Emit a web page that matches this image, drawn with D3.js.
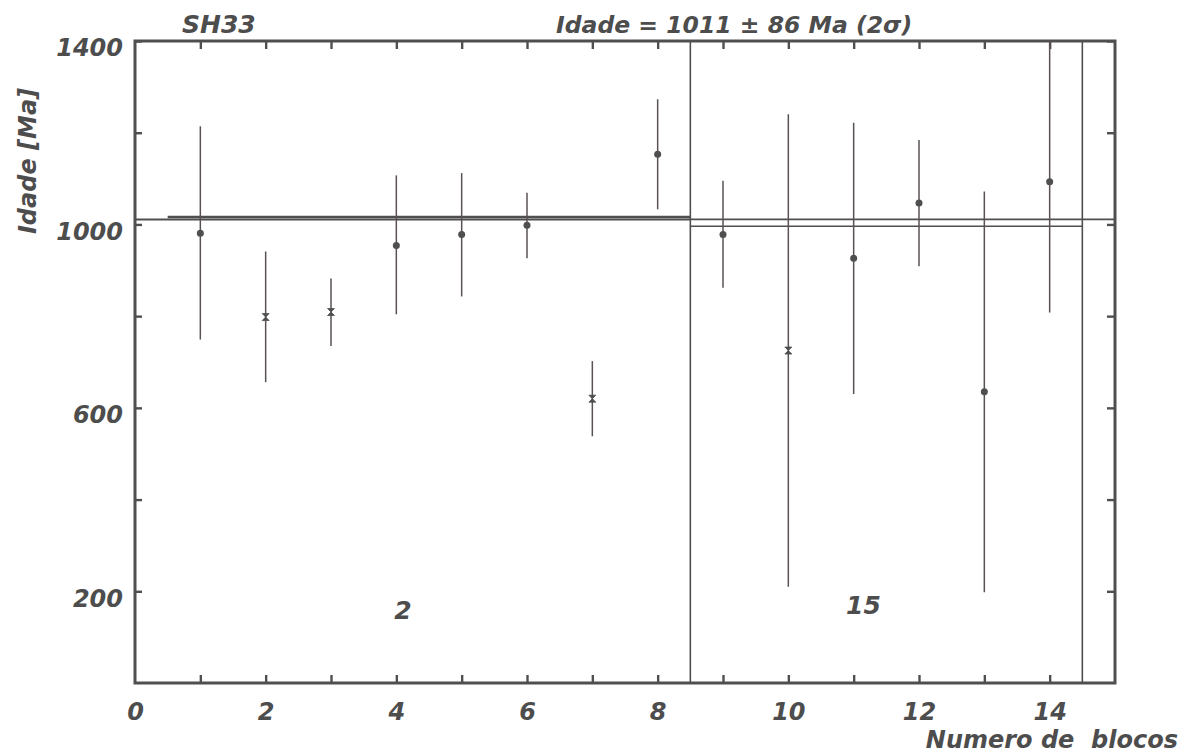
<!DOCTYPE html>
<html>
<head>
<meta charset="utf-8">
<script src="https://cdn.jsdelivr.net/npm/d3@7"></script>
<style>
  html, body { margin: 0; padding: 0; background: #fff; }
  svg { display: block; }
  text { font-family: "DejaVu Sans", sans-serif; font-style: italic; fill: #4d4d4d; }
</style>
</head>
<body>
<svg id="chart" width="1190" height="754"></svg>
<script>
// Block ages (Ma) with 2-sigma bounds, SH33
const blocks   = [1, 2, 3, 4, 5, 6, 7, 8, 9, 10, 11, 12, 13, 14];
const ages     = [981, 798, 809, 954, 978, 998, 620, 1153, 978, 725, 926, 1047, 635, 1093];
const ageLow   = [749, 656, 735, 804, 843, 926, 538, 1033, 862, 210, 630, 909, 198, 808];
const ageHigh  = [1214, 941, 882, 1107, 1112, 1069, 702, 1273, 1095, 1240, 1222, 1184, 1072, 1400];
const markers  = ["dot", "hour", "hour", "dot", "dot", "dot", "hour", "dot", "dot", "hour", "dot", "dot", "dot", "dot"];

// Reference age lines: value, x start, x end, width
const refValues = [1011, 1016, 1011, 996];
const refStart  = [0, 0.5, 8.5, 8.5];
const refEnd    = [8.5, 8.5, 15, 14.5];
const refWidth  = [2, 2.5, 1.6, 1.6];

// Group separators and group labels
const separators = [8.5, 14.5];
const groupLabels = ["2", "15"];
const groupLabelX = [4.1, 11.15];
const groupLabelY = [140, 150];

const xTickLabels = [0, 2, 4, 6, 8, 10, 12, 14];
const yTickLabels = [200, 600, 1000, 1400];

const svg = d3.select("#chart");
const ink = "#4f4f4f";

const x = d3.scaleLinear().domain([0, 15]).range([135, 1115]);
const y = d3.scaleLinear().domain([0, 1400]).range([683, 41]);

svg.append("clipPath").attr("id", "plotclip")
  .append("rect")
  .attr("x", x(0)).attr("y", y(1400))
  .attr("width", x(15) - x(0)).attr("height", y(0) - y(1400));

// Axes with inward ticks
const fmtX = d => (xTickLabels.includes(d) ? d : "");
const fmtY = d => (yTickLabels.includes(d) ? d : "");

const axBottom = svg.append("g").attr("transform", `translate(0,${y(0)})`)
  .call(d3.axisBottom(x).tickValues(d3.range(0, 15)).tickSize(-8).tickPadding(20).tickFormat(fmtX));
const axTop = svg.append("g").attr("transform", `translate(0,${y(1400)})`)
  .call(d3.axisTop(x).tickValues(d3.range(1, 15)).tickSize(-8).tickFormat(""));
const axLeft = svg.append("g").attr("transform", `translate(${x(0)},0)`)
  .call(d3.axisLeft(y).tickValues(d3.range(200, 1401, 200)).tickSize(-7).tickPadding(12).tickFormat(fmtY));
const axRight = svg.append("g").attr("transform", `translate(${x(15)},0)`)
  .call(d3.axisRight(y).tickValues(d3.range(200, 1401, 200)).tickSize(-8).tickFormat(""));

[axBottom, axTop, axLeft, axRight].forEach(g => {
  g.select(".domain").remove();
  g.selectAll(".tick line").attr("stroke", ink).attr("stroke-width", 2.4);
});
axBottom.selectAll(".tick line").filter(d => d === 0).remove();
axBottom.selectAll(".tick text")
  .attr("font-size", 24).attr("font-weight", "bold").attr("fill", ink);
axLeft.selectAll(".tick text")
  .attr("font-size", 24).attr("font-weight", "bold").attr("fill", ink)
  .attr("dy", "0.62em");

// Frame
svg.append("rect")
  .attr("x", x(0)).attr("y", y(1400))
  .attr("width", x(15) - x(0)).attr("height", y(0) - y(1400))
  .attr("fill", "none").attr("stroke", ink).attr("stroke-width", 3);

const plot = svg.append("g").attr("clip-path", "url(#plotclip)");

// Group separators
plot.selectAll("line.sep").data(separators).join("line")
  .attr("class", "sep")
  .attr("x1", d => x(d)).attr("x2", d => x(d))
  .attr("y1", y(1400)).attr("y2", y(0))
  .attr("stroke", ink).attr("stroke-width", 1.6);

// Reference age lines
plot.selectAll("line.ref").data(refValues).join("line")
  .attr("class", "ref")
  .attr("x1", (d, i) => x(refStart[i])).attr("x2", (d, i) => x(refEnd[i]))
  .attr("y1", d => y(d)).attr("y2", d => y(d))
  .attr("stroke", ink).attr("stroke-width", (d, i) => refWidth[i]);

// Error bars
plot.selectAll("line.err").data(blocks).join("line")
  .attr("class", "err")
  .attr("x1", d => x(d)).attr("x2", d => x(d))
  .attr("y1", (d, i) => y(ageLow[i])).attr("y2", (d, i) => y(ageHigh[i]))
  .attr("stroke", "#5a5252").attr("stroke-width", 1.5);

// Markers: filled dots and hourglass symbols
const hourglass = "M-3.5,-3.5 L3.5,-3.5 L-3.5,3.5 L3.5,3.5 Z";
plot.selectAll("g.pt").data(blocks).join("g")
  .attr("class", "pt")
  .attr("transform", (d, i) => `translate(${x(d)},${y(ages[i])})`)
  .each(function (d, i) {
    const g = d3.select(this);
    if (markers[i] === "dot") {
      g.append("circle").attr("r", 3.5).attr("fill", ink);
    } else {
      g.append("path").attr("d", hourglass).attr("fill", ink)
        .attr("stroke", ink).attr("stroke-width", 0.8);
    }
  });

// Group labels
svg.selectAll("text.grp").data(groupLabels).join("text")
  .attr("class", "grp")
  .attr("x", (d, i) => x(groupLabelX[i])).attr("y", (d, i) => y(groupLabelY[i]))
  .attr("text-anchor", "middle").attr("font-size", 25).attr("font-weight", "bold")
  .text(d => d);

// Titles and axis names
svg.append("text").attr("x", 182).attr("y", 33)
  .attr("font-size", 25).attr("font-weight", "bold").text("SH33");
svg.append("text").attr("x", 556).attr("y", 33)
  .attr("font-size", 23.5).attr("font-weight", "bold").text("Idade = 1011 ± 86 Ma (2σ)");
svg.append("text")
  .attr("transform", "translate(36,161) rotate(-90)")
  .attr("text-anchor", "middle").attr("font-size", 24).attr("font-weight", "bold")
  .text("Idade [Ma]");
svg.append("text").attr("x", 1178).attr("y", 748)
  .attr("text-anchor", "end").attr("font-size", 24).attr("font-weight", "bold")
  .style("white-space", "pre")
  .text("Numero de  blocos");
</script>
</body>
</html>
